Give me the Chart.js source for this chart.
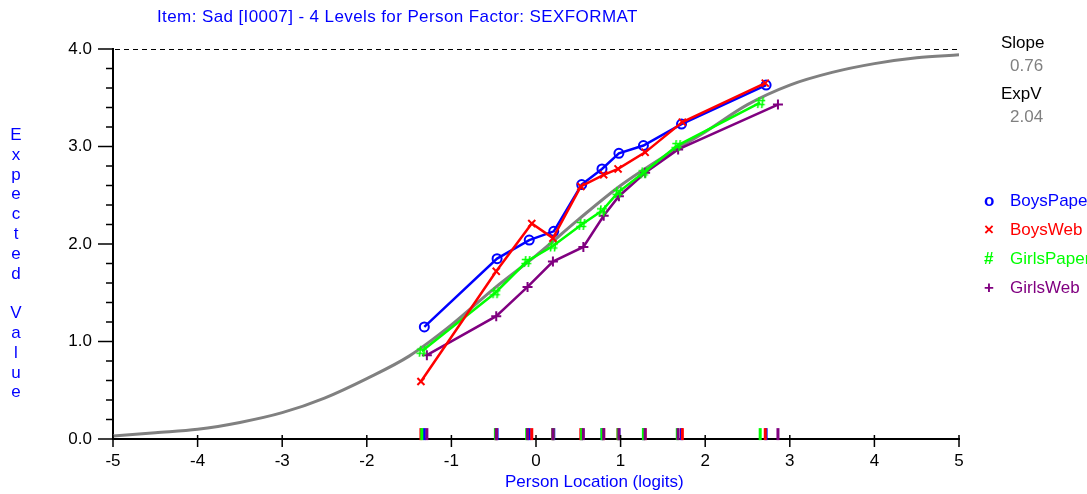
<!DOCTYPE html>
<html>
<head>
<meta charset="utf-8">
<script src="https://cdn.jsdelivr.net/npm/chart.js@4.4.1/dist/chart.umd.min.js"></script>
<style>
  body { margin: 0; background: #fff; }
  #wrap { position: relative; width: 1087px; height: 494px; overflow: hidden;
          font-family: "Liberation Sans", Arial, sans-serif; font-size: 17px; }
  #icc { position: absolute; left: 0; top: 0; }
  .t { position: absolute; white-space: nowrap; line-height: 20px; }
  #ytitle { position: absolute; left: 8px; top: 125px; width: 16px; text-align: center;
            color: #0000ff; line-height: 19.8px; }
</style>
</head>
<body>
<div id="wrap">
  <canvas id="icc" width="1087" height="494"></canvas>
  <div class="t" style="left:157px;top:7px;color:#0000ff;letter-spacing:0.4px;">Item: Sad [I0007] - 4 Levels for Person Factor: SEXFORMAT</div>
  <div id="ytitle"></div>
  <div class="t" style="left:505px;top:472px;color:#0000ff;">Person Location (logits)</div>
  <div class="t" style="left:1001px;top:33px;color:#000;">Slope</div>
  <div class="t" style="left:1010px;top:56px;color:#808080;">0.76</div>
  <div class="t" style="left:1001px;top:84px;color:#000;">ExpV</div>
  <div class="t" style="left:1010px;top:107px;color:#808080;">2.04</div>
  <div id="legend"></div>
</div>
<script>
// --- dados ---
const xRange = [-5, 5];
const yRange = [0, 4];
const xTickStep = 1;
const yTickStep = 0.2;

// curva teórica (ICC)
const iccX = [-5, -4.5, -4, -3.5, -3, -2.5, -2, -1.5, -1, -0.5, 0, 0.5, 1, 1.5, 2, 2.5, 3, 3.5, 4, 4.5, 5];
const iccY = [0.03, 0.065, 0.10, 0.17, 0.27, 0.42, 0.62, 0.85, 1.17, 1.54, 1.88, 2.25, 2.60, 2.89, 3.15, 3.43, 3.63, 3.76, 3.85, 3.91, 3.94];

const seriesNames = ['BoysPaper', 'BoysWeb', 'GirlsPaper', 'GirlsWeb'];

const boysPaperX = [-1.32, -0.46, -0.08, 0.21, 0.54, 0.78, 0.98, 1.27, 1.72, 2.72];
const boysPaperY = [1.15, 1.85, 2.04, 2.13, 2.61, 2.77, 2.93, 3.01, 3.23, 3.63];

const boysWebX = [-1.36, -0.47, -0.05, 0.20, 0.53, 0.80, 0.97, 1.29, 1.73, 2.71];
const boysWebY = [0.59, 1.72, 2.21, 2.06, 2.59, 2.71, 2.77, 2.94, 3.25, 3.65];

const girlsPaperX = [-1.35, -0.48, -0.11, 0.20, 0.54, 0.78, 0.97, 1.27, 1.67, 2.65];
const girlsPaperY = [0.90, 1.50, 1.82, 1.98, 2.20, 2.34, 2.53, 2.73, 3.01, 3.45];

const girlsWebX = [-1.29, -0.47, -0.10, 0.20, 0.56, 0.80, 0.98, 1.29, 1.68, 2.86];
const girlsWebY = [0.86, 1.26, 1.56, 1.82, 1.97, 2.29, 2.49, 2.73, 2.97, 3.43];

// --- estilos ---
const COLORS = { blue: '#0000ff', red: '#ff0000', green: '#00ff00', purple: '#800080', gray: '#808080' };
const FONT = "'Liberation Sans', Arial, sans-serif";

// marcador '#' (não existe no Chart.js)
function hashMarker(color) {
  const c = document.createElement('canvas');
  c.width = 12; c.height = 13;
  const g = c.getContext('2d');
  g.strokeStyle = color; g.lineWidth = 1.6;
  g.beginPath();
  g.moveTo(5, 1); g.lineTo(3.5, 12);
  g.moveTo(9, 1); g.lineTo(7.5, 12);
  g.moveTo(1, 4.5); g.lineTo(11, 4.5);
  g.moveTo(0.5, 8.5); g.lineTo(10.5, 8.5);
  g.stroke();
  return c;
}

const zip = (xs, ys) => xs.map((x, i) => ({ x, y: ys[i] }));

const series = [
  { name: seriesNames[0], xs: boysPaperX, ys: boysPaperY, color: COLORS.blue, style: 'circle', radius: 4.5, order: 2, mark: 'o' },
  { name: seriesNames[1], xs: boysWebX, ys: boysWebY, color: COLORS.red, style: 'crossRot', radius: 5, order: 1, mark: '\u00d7' },
  { name: seriesNames[2], xs: girlsPaperX, ys: girlsPaperY, color: COLORS.green, style: hashMarker(COLORS.green), radius: 6, order: 3, mark: '#' },
  { name: seriesNames[3], xs: girlsWebX, ys: girlsWebY, color: COLORS.purple, style: 'cross', radius: 5, order: 4, mark: '+' }
];

const datasets = [{
  label: 'ICC', data: zip(iccX, iccY), borderColor: COLORS.gray, borderWidth: 3,
  pointRadius: 0, cubicInterpolationMode: 'monotone', order: 5
}];

series.forEach(s => {
  datasets.push({
    label: s.name, data: zip(s.xs, s.ys), borderColor: s.color, backgroundColor: 'transparent',
    borderWidth: 2.5, tension: 0, pointStyle: s.style, pointRadius: s.radius,
    pointBorderWidth: 2, pointBorderColor: s.color, order: s.order
  });
});

// marcas no eixo x (localização das classes) - a última série fica por cima
series.forEach((s, i) => {
  datasets.push({
    label: s.name + ' rug', data: s.xs.map(x => ({ x, y: 0.05 })), showLine: false,
    pointStyle: 'line', rotation: 90, pointRadius: 6, pointBorderWidth: 3,
    pointBorderColor: s.color, borderColor: s.color, clip: false, order: -1 - i
  });
});

// ticks dos eixos + linha tracejada no máximo
const axisMarks = {
  id: 'axisMarks',
  afterDraw(chart) {
    const { ctx, scales: { x, y } } = chart;
    ctx.save();
    ctx.strokeStyle = '#000';
    ctx.lineWidth = 1.5;
    y.ticks.forEach(t => {
      const py = y.getPixelForValue(t.value);
      const major = Math.abs(t.value - Math.round(t.value)) < 1e-6;
      ctx.beginPath();
      ctx.moveTo(x.left - (major ? 15 : 7), py);
      ctx.lineTo(x.left, py);
      ctx.stroke();
    });
    x.ticks.forEach(t => {
      const px = x.getPixelForValue(t.value);
      ctx.beginPath();
      ctx.moveTo(px, y.bottom - 4);
      ctx.lineTo(px, y.bottom + 8);
      ctx.stroke();
    });
    const top = y.getPixelForValue(yRange[1]);
    ctx.lineWidth = 1;
    ctx.setLineDash([5, 4]);
    ctx.beginPath();
    ctx.moveTo(x.left + 2, top + 0.5);
    ctx.lineTo(x.right, top + 0.5);
    ctx.stroke();
    ctx.restore();
  }
};

new Chart(document.getElementById('icc'), {
  type: 'line',
  data: { datasets },
  options: {
    responsive: false,
    animation: false,
    layout: { padding: { top: 49, right: 128, left: 0, bottom: 0 } },
    plugins: { legend: { display: false }, tooltip: { enabled: false } },
    scales: {
      x: {
        type: 'linear', min: xRange[0], max: xRange[1],
        ticks: { stepSize: xTickStep, color: '#000', padding: 12, font: { family: FONT, size: 17 },
                 callback: v => String(v) },
        grid: { display: false, drawTicks: false },
        border: { display: true, color: '#000', width: 2 },
        afterFit: s => { s.height = 55; }
      },
      y: {
        type: 'linear', min: yRange[0], max: yRange[1],
        ticks: { stepSize: yTickStep, color: '#000', padding: 21, autoSkip: false, font: { family: FONT, size: 17 },
                 callback: v => Math.abs(v - Math.round(v)) < 1e-6 ? v.toFixed(1) : '' },
        grid: { display: false, drawTicks: false },
        border: { display: true, color: '#000', width: 2 },
        afterFit: s => { s.width = 113; }
      }
    }
  },
  plugins: [axisMarks]
});

// título vertical e legenda (texto HTML)
document.getElementById('ytitle').innerHTML = 'Expected Value'.split('').map(c => c === ' ' ? '&nbsp;' : c).join('<br>');

const legend = document.getElementById('legend');
series.forEach((s, i) => {
  const top = 191 + i * 29;
  legend.insertAdjacentHTML('beforeend',
    `<div class="t" style="left:984px;top:${top}px;color:${s.color};font-weight:bold;">${s.mark}</div>` +
    `<div class="t" style="left:1010px;top:${top}px;color:${s.color};">${s.name}</div>`);
});
</script>
</body>
</html>
